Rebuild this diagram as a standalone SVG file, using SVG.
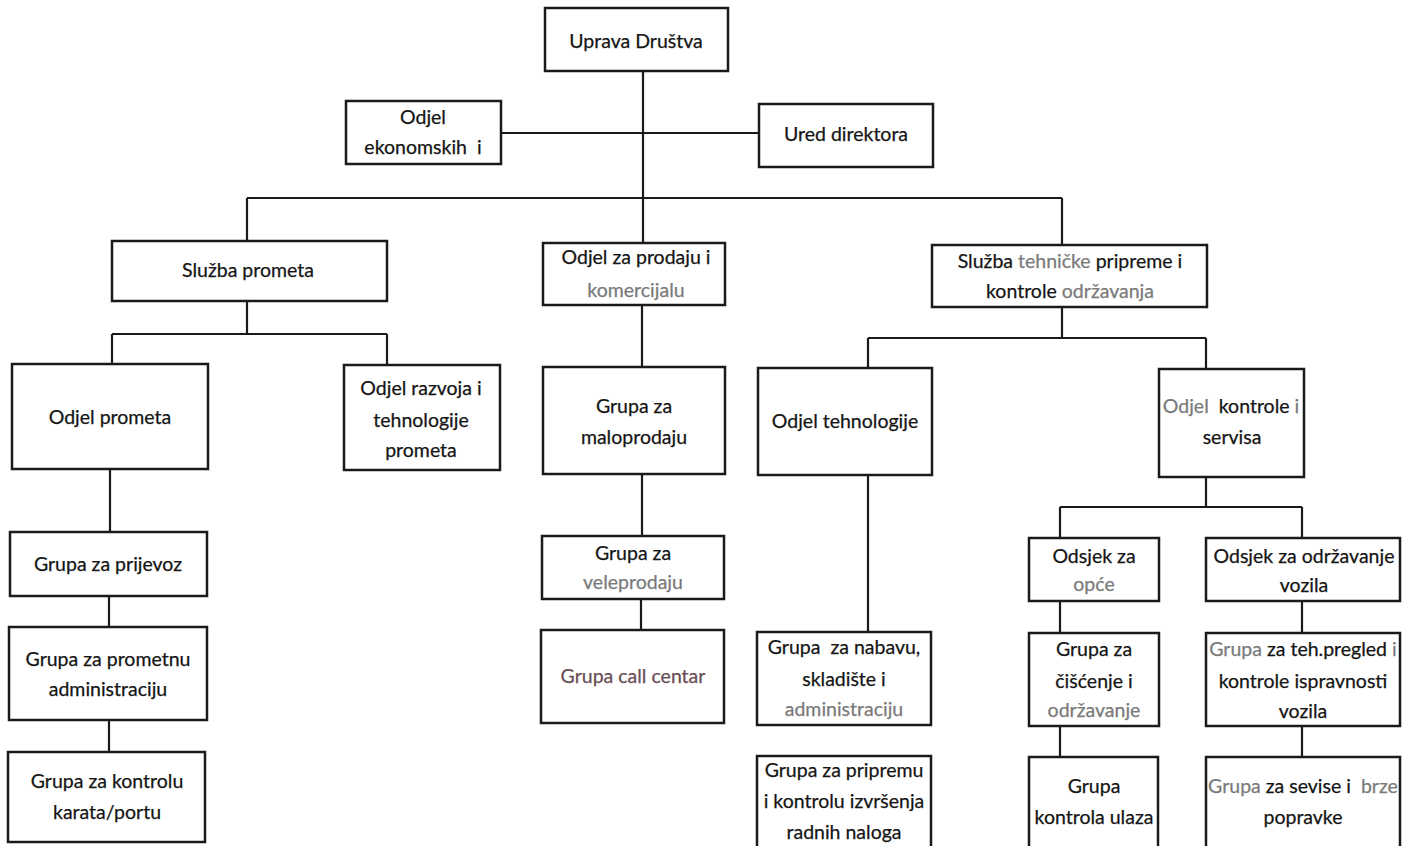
<svg xmlns="http://www.w3.org/2000/svg" width="1403" height="846" viewBox="0 0 1403 846">
<style>
.b{fill:#fff;stroke:#1a1a1a;stroke-width:2.5}
.c{fill:none;stroke:#1a1a1a;stroke-width:2.2}
text{font-family:Lato,"Open Sans","Liberation Sans",sans-serif;font-size:19.5px;fill:#151515;stroke:#151515;stroke-width:0.25;text-anchor:middle}
.g{fill:#7a7a7a;stroke:#7a7a7a}
.m{fill:#6a4c55;stroke:#6a4c55}
</style>
<rect width="1403" height="846" fill="#fff"/>
<g id="connectors">
<path class="c" d="M643 71V243M501 133H759M247 198H1062M247 198V241M1062 198V245"/>
<path class="c" d="M247 301V334M112 334H387M112 334V364M387 334V365"/>
<path class="c" d="M110 469V532M109 596V627M109 720V752"/>
<path class="c" d="M642 305V367M642 474V536M641 599V630"/>
<path class="c" d="M1062 307V338M868 338H1206M868 338V368M1206 338V369M868 475V632"/>
<path class="c" d="M1206 477V507M1060 507H1302M1060 507V538M1302 507V538"/>
<path class="c" d="M1060 601V633M1060 726V757M1302 601V633M1302 726V757"/>
</g>
<g id="uprava"><rect class="b" x="545" y="8" width="183" height="63"/><text x="636" y="48">Uprava Društva</text></g>
<g id="odjel-ekonomskih"><rect class="b" x="346" y="101" width="155" height="63"/><text x="423" y="124">Odjel</text><text x="423" y="154" xml:space="preserve">ekonomskih  i</text></g>
<g id="ured-direktora"><rect class="b" x="759" y="104" width="174" height="63"/><text x="846" y="141">Ured direktora</text></g>
<g id="sluzba-prometa"><rect class="b" x="112" y="241" width="275" height="60"/><text x="248" y="277">Služba prometa</text></g>
<g id="odjel-prodaja"><rect class="b" x="543" y="243" width="182" height="62"/><text x="636" y="264">Odjel za prodaju i</text><text x="636" y="297" class="g">komercijalu</text></g>
<g id="sluzba-tehnicke"><rect class="b" x="932" y="245" width="275" height="62"/><text x="1070" y="268">Služba <tspan class="g">tehničke</tspan> pripreme i</text><text x="1070" y="298">kontrole <tspan class="g">održavanja</tspan></text></g>
<g id="odjel-prometa"><rect class="b" x="12" y="364" width="196" height="105"/><text x="110" y="424">Odjel prometa</text></g>
<g id="odjel-razvoja"><rect class="b" x="344" y="365" width="156" height="105"/><text x="421" y="395">Odjel razvoja i</text><text x="421" y="427">tehnologije</text><text x="421" y="457">prometa</text></g>
<g id="grupa-maloprodaja"><rect class="b" x="543" y="367" width="182" height="107"/><text x="634" y="413">Grupa za</text><text x="634" y="444">maloprodaju</text></g>
<g id="odjel-tehnologije"><rect class="b" x="758" y="368" width="174" height="107"/><text x="845" y="428">Odjel tehnologije</text></g>
<g id="odjel-kontrole"><rect class="b" x="1159" y="369" width="145" height="108"/><text x="1231" y="413" xml:space="preserve"><tspan class="g">Odjel</tspan>  kontrole <tspan class="g">i</tspan></text><text x="1232" y="444">servisa</text></g>
<g id="grupa-prijevoz"><rect class="b" x="10" y="532" width="197" height="64"/><text x="108" y="571">Grupa za prijevoz</text></g>
<g id="grupa-prometna"><rect class="b" x="9" y="627" width="198" height="93"/><text x="108" y="666">Grupa za prometnu</text><text x="108" y="696">administraciju</text></g>
<g id="grupa-kontrola-karata"><rect class="b" x="8" y="752" width="197" height="90"/><text x="107" y="788">Grupa za kontrolu</text><text x="107" y="819">karata/portu</text></g>
<g id="grupa-veleprodaja"><rect class="b" x="542" y="536" width="182" height="63"/><text x="633" y="560">Grupa za</text><text x="633" y="589" class="g">veleprodaju</text></g>
<g id="grupa-call-centar"><rect class="b" x="541" y="630" width="183" height="93"/><text x="633" y="683" class="m">Grupa call centar</text></g>
<g id="grupa-nabava"><rect class="b" x="757" y="632" width="174" height="93"/><text x="844" y="654" xml:space="preserve">Grupa  za nabavu,</text><text x="844" y="686">skladište i</text><text x="844" y="716" class="g">administraciju</text></g>
<g id="grupa-priprema"><rect class="b" x="757" y="756" width="174" height="100"/><text x="844" y="777">Grupa za pripremu</text><text x="844" y="808">i kontrolu izvršenja</text><text x="844" y="839">radnih naloga</text></g>
<g id="odsjek-opce"><rect class="b" x="1029" y="538" width="130" height="63"/><text x="1094" y="563">Odsjek za</text><text x="1094" y="591" class="g">opće</text></g>
<g id="odsjek-odrzavanje"><rect class="b" x="1206" y="538" width="194" height="63"/><text x="1304" y="563">Odsjek za održavanje</text><text x="1304" y="592">vozila</text></g>
<g id="grupa-ciscenje"><rect class="b" x="1029" y="633" width="130" height="93"/><text x="1094" y="656">Grupa za</text><text x="1094" y="688">čišćenje i</text><text x="1094" y="717" class="g">održavanje</text></g>
<g id="grupa-teh-pregled"><rect class="b" x="1206" y="633" width="194" height="93"/><text x="1303" y="656"><tspan class="g">Grupa</tspan> za teh.pregled <tspan class="g">i</tspan></text><text x="1303" y="688">kontrole ispravnosti</text><text x="1303" y="718">vozila</text></g>
<g id="grupa-kontrola-ulaza"><rect class="b" x="1029" y="757" width="129" height="99"/><text x="1094" y="793">Grupa</text><text x="1094" y="824">kontrola ulaza</text></g>
<g id="grupa-servisi"><rect class="b" x="1206" y="757" width="194" height="99"/><text x="1303" y="793" xml:space="preserve"><tspan class="g">Grupa</tspan> za sevise i  <tspan class="g">brze</tspan></text><text x="1303" y="824">popravke</text></g>
</svg>
